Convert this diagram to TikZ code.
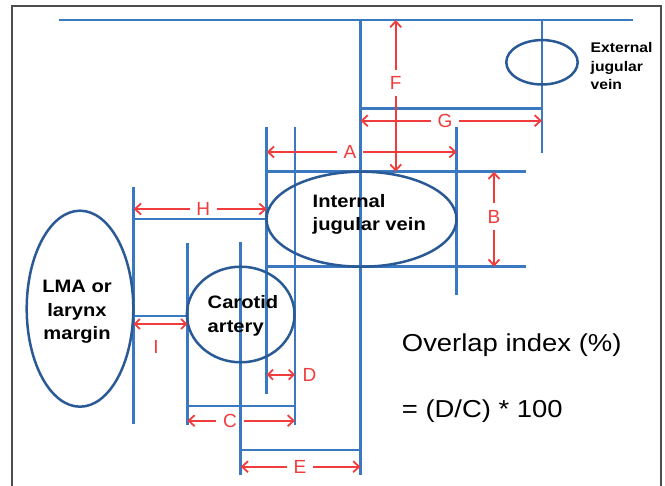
\documentclass[tikz,border=0pt]{standalone}
\usepackage{fontspec}
\setmainfont{Liberation Sans}
\usepackage{graphicx}
\usepackage{tikz}
\usetikzlibrary{arrows.meta, positioning, calc}
\definecolor{guideblue}{HTML}{3A78C2}
\definecolor{vesselblue}{HTML}{2A5A96}
\definecolor{dimred}{HTML}{F03C3C}
\definecolor{framegray}{HTML}{4D4D4D}
\newcommand{\widetext}[2]{%
  \scalebox{1.12}[1]{\begin{tabular}{@{}#1@{}}#2\end{tabular}}%
}
\tikzset{
  guide/.style={draw=guideblue, line width=2.8pt},
  vessel/.style={draw=vesselblue, line width=2.5pt},
  organ/.style={text=black, inner sep=0pt, font=\bfseries\fontsize{18}{23.5}\selectfont},
  dimlabel/.style={text=dimred, inner sep=2.5pt, font=\fontsize{19}{19}\selectfont},
  dim/.style={draw=dimred, line width=1.8pt, shorten <=4pt, -{Straight Barb[length=6pt,width=11pt]}},
  dimboth/.style={draw=dimred, line width=1.8pt, {Straight Barb[length=5pt,width=10pt]}-{Straight Barb[length=5pt,width=10pt]}},
  formula/.style={text=black, inner sep=0pt, anchor=base west, font=\fontsize{24.5}{29}\selectfont}
}

\begin{document}
\begin{tikzpicture}[x=1pt, y=-1pt]
    \useasboundingbox (0,0) rectangle (665,486);
    % frame, open at the bottom
    \draw[framegray, line width=1.5pt] (12,486) -- (12,6) -- (661,6) -- (661,486);

    % Guide lines: vertical (x/top/bottom), then horizontal (y/left/right)
    \foreach \x/\ya/\yb in {133.7/187/424, 187.3/243/425, 240.7/241.7/475, 266.7/127/394.3,
                             295/127/425, 360.5/20/475, 456.7/127/295, 542/20/152.7} {
      \draw[guide] (\x,\ya) -- (\x,\yb);
    }
    \foreach \y/\xa/\xb in {20/58.7/633, 108.3/360.5/542, 171.7/266.7/526, 219/133.7/266.7,
                             266.7/266.7/526, 316/133.7/187.3, 406/187.3/295, 450/240.7/360.5} {
      \draw[guide] (\xa,\y) -- (\xb,\y);
    }

    % Vessels and margin
    \draw[vessel] (80,308.7) ellipse [x radius=53.3, y radius=98];
    \draw[vessel] (240.7,314.5) ellipse [x radius=53.8, y radius=47.8];
    \draw[vessel] (361.5,219.2) ellipse [x radius=95, y radius=47.5];
    \draw[vessel] (542,62.3) ellipse [x radius=35.7, y radius=22.2];

    \node[organ] (lma) at (77,311.5) {\widetext{c}{LMA or\\larynx\\margin}};
    \node[organ, anchor=west] (carotid) at (207.5,316) {\widetext{l}{Carotid\\artery}};
    \node[organ, anchor=west] (ijv) at (312.5,214.5) {\widetext{l}{Internal\\jugular vein}};
    \node[organ, anchor=west, font=\bfseries\fontsize{14}{18.5}\selectfont] (ejv) at (590.5,67.7)
      {\widetext{l}{External\\jugular\\vein}};

    % Measures with the label in a gap of the arrow
    \foreach \n/\lx/\ly/\ax/\ay/\bx/\by in {A/350/152/266.7/152/456.7/152,
                                            B/494/216.7/494/171.7/494/266.7,
                                            C/230/420.7/187.3/420.7/295/420.7,
                                            E/300/466.7/240.7/466.7/360.5/466.7,
                                            F/395.7/83/395.7/20/395.7/171.7,
                                            G/445/120.7/360.5/120.7/542/120.7,
                                            H/203.3/209/133.7/209/266.7/209} {
      \node[dimlabel] (lbl\n) at (\lx,\ly) {\n};
      \coordinate (\n start) at (\ax,\ay);
      \coordinate (\n end) at (\bx,\by);
      \draw[dim] (lbl\n) -- (\n start);
      \draw[dim] (lbl\n) -- (\n end);
    }

    % Short measures D and I
    \coordinate (dleft) at (266.7,374.7);
    \coordinate (dright) at (295,374.7);
    \draw[dimboth] (dleft) -- (dright);
    \node[dimlabel, anchor=west, inner sep=0pt] (lblD) at (302.5,374.7) {D};
    \coordinate (ileft) at (133.7,324);
    \coordinate (iright) at (187.3,324);
    \draw[dimboth] (ileft) -- (iright);
    \node[dimlabel] (lblI) at (156,346.7) {I};

    % Formula
    \node[formula] (index) at (401.7,351.7) {\scalebox{1.12}[1]{Overlap index (\%)}};
    \node[formula] (equation) at (401.7,418) {\scalebox{1.12}[1]{= (D/C) * 100}};
  \end{tikzpicture}
\end{document}
